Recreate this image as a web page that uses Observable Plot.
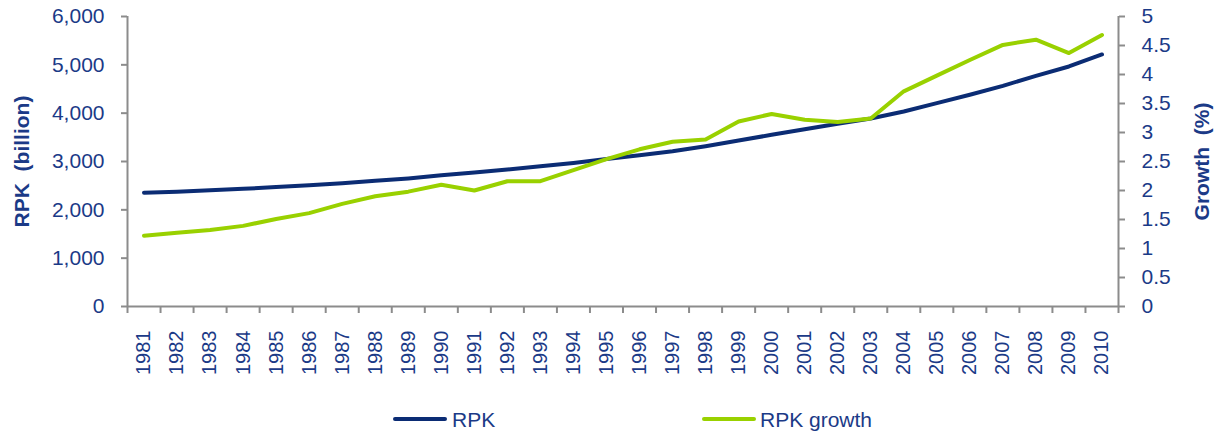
<!DOCTYPE html>
<html>
<head>
<meta charset="utf-8">
<script src="https://cdn.jsdelivr.net/npm/d3@7"></script>
<script src="https://cdn.jsdelivr.net/npm/@observablehq/plot@0.6"></script>
<style>
  body { margin: 0; background: #fff; font-family: "Liberation Sans", Arial, sans-serif; }
  #wrap { position: relative; width: 1220px; height: 433px; overflow: hidden; }
  #chart svg text { white-space: pre; }
  .sw { position: absolute; height: 4px; width: 54px; border-radius: 2px; top: 417px; }
  .lt { position: absolute; top: 409px; font-size: 21px; line-height: 21px; color: #1b3a87; white-space: nowrap; }
</style>
</head>
<body>
<div id="wrap">
  <div id="chart"></div>
  <div id="legend"></div>
</div>
<script>
// ---- data ----
const years = [1981, 1982, 1983, 1984, 1985, 1986, 1987, 1988, 1989, 1990,
               1991, 1992, 1993, 1994, 1995, 1996, 1997, 1998, 1999, 2000,
               2001, 2002, 2003, 2004, 2005, 2006, 2007, 2008, 2009, 2010];
const rpk = [2355, 2375, 2405, 2435, 2470, 2510, 2552, 2600, 2650, 2715,
             2770, 2835, 2900, 2970, 3050, 3131, 3214, 3317, 3435, 3552,
             3669, 3780, 3890, 4035, 4207, 4380, 4566, 4773, 4966, 5214];
const growth = [1.22, 1.27, 1.32, 1.39, 1.51, 1.61, 1.77, 1.90, 1.98, 2.10,
                2.00, 2.16, 2.16, 2.35, 2.54, 2.71, 2.84, 2.88, 3.19, 3.32,
                3.22, 3.18, 3.24, 3.71, 3.98, 4.25, 4.51, 4.60, 4.37, 4.68];
const rpkTicks = [0, 1000, 2000, 3000, 4000, 5000, 6000];
const growthTicks = [0, 0.5, 1, 1.5, 2, 2.5, 3, 3.5, 4, 4.5, 5];
const seriesNames = ["RPK", "RPK growth"];
const seriesColors = ["#0b2c74", "#99d100"];
const leftTitle = "RPK  (billion)";
const rightTitle = "Growth  (%)";

// ---- derived ----
const RPK_MAX = 6000, GROWTH_MAX = 5;
const k = RPK_MAX / GROWTH_MAX;
const rows = years.map((y, i) => ({year: y, rpk: rpk[i], g: growth[i] * k}));
const x0 = years[0] - 0.5, x1 = years[years.length - 1] + 0.5;
const boundaries = [x0, ...years.map(y => y + 0.5)];

const axisGray = "#8c8c8c";
const textColor = "#1b3a87";

const chart = Plot.plot({
  width: 1220,
  height: 390,
  marginTop: 16,
  marginBottom: 84,
  marginLeft: 127,
  marginRight: 102,
  style: {fontFamily: "Liberation Sans, Arial, sans-serif", fontSize: "20px", color: textColor, background: "white"},
  x: {type: "linear", domain: [x0, x1]},
  y: {domain: [0, RPK_MAX]},
  marks: [
    Plot.ruleX([x0, x1], {stroke: axisGray, strokeWidth: 2}),
    Plot.ruleY([0], {stroke: axisGray, strokeWidth: 2}),
    Plot.axisY({anchor: "left", ticks: rpkTicks, tickFormat: d3.format(","), tickSize: 6, tickPadding: 17,
                stroke: axisGray, strokeWidth: 2, fill: textColor, fontSize: 21, label: null}),
    Plot.axisY({anchor: "right", ticks: growthTicks.map(v => v * k), tickFormat: d => String(+(d / k).toFixed(2)),
                tickSize: 6, tickPadding: 17, stroke: axisGray, strokeWidth: 2, fill: textColor, fontSize: 21, label: null}),
    Plot.axisX({ticks: boundaries, tickSize: 7, tickFormat: () => "", stroke: axisGray, strokeWidth: 2, label: null}),
    Plot.axisX({ticks: years, tickSize: 0, tickPadding: 24, tickRotate: -90, tickFormat: d => String(d), fill: textColor, fontSize: 20, label: null}),
    Plot.text([leftTitle], {frameAnchor: "left", textAnchor: "middle", lineAnchor: "middle", dx: -105, rotate: -90, fontWeight: "bold", fontSize: 21, fill: textColor}),
    Plot.text([rightTitle], {frameAnchor: "right", textAnchor: "middle", lineAnchor: "middle", dx: 84, rotate: -90, fontWeight: "bold", fontSize: 21, fill: textColor}),
    Plot.line(rows, {x: "year", y: "rpk", stroke: seriesColors[0], strokeWidth: 4, strokeLinecap: "round", strokeLinejoin: "round"}),
    Plot.line(rows, {x: "year", y: "g", stroke: seriesColors[1], strokeWidth: 4, strokeLinecap: "round", strokeLinejoin: "round"})
  ]
});
document.getElementById("chart").appendChild(chart);

// ---- legend ----
const legend = document.getElementById("legend");
const legendPos = [{sw: 393, tx: 452}, {sw: 702, tx: 760}];
seriesNames.forEach((name, i) => {
  const sw = document.createElement("div");
  sw.className = "sw";
  sw.style.left = legendPos[i].sw + "px";
  sw.style.background = seriesColors[i];
  legend.appendChild(sw);
  const t = document.createElement("div");
  t.className = "lt";
  t.style.left = legendPos[i].tx + "px";
  t.textContent = name;
  legend.appendChild(t);
});
</script>
</body>
</html>
